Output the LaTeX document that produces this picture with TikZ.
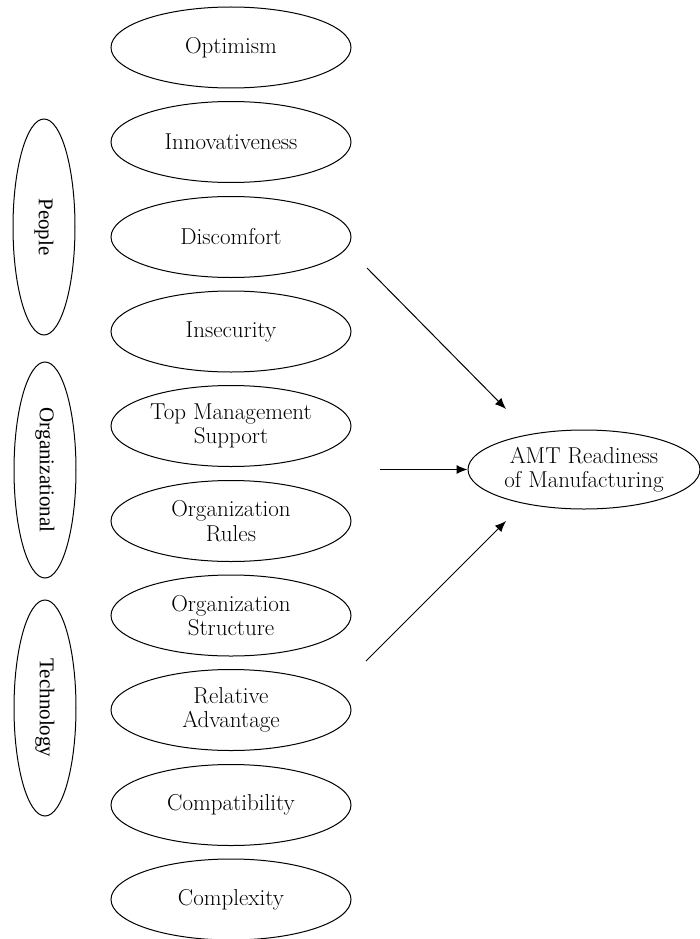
\documentclass[tikz,border=0pt]{standalone}
\usepackage{fontspec}
\newfontfamily\sidefont{Liberation Serif}
\usetikzlibrary{shapes.geometric}
\usetikzlibrary{arrows.meta}

\begin{document}
\begin{tikzpicture}[x=1pt, y=-1pt,
    factor/.style={draw, ellipse, line width=1pt, minimum width=240pt, minimum height=81pt,
        inner sep=0pt, align=center, font=\fontsize{23}{24.5}\selectfont},
    group/.style={draw, ellipse, line width=1pt, minimum width=216pt, minimum height=62pt,
        inner sep=0pt, rotate=-90, font=\sidefont\fontsize{21}{24}\selectfont},
    link/.style={line width=1pt, -{Latex[length=11pt,width=9pt]}}]

        % Fix the page to the size of the figure
        \useasboundingbox (0,0) rectangle (699,939);

        % Draw the three groups on the left
        \node[group] (people) at (44,227) {People};
        \node[group] (orga) at (45,470) {Organizational};
        \node[group] (tech) at (45,708) {Technology};

        % Draw the factors in the middle column
        \node[factor] (optim) at (231,47.5) {Optimism};
        \node[factor] (innov) at (231,142) {Innovativeness};
        \node[factor] (discom) at (231,237) {Discomfort};
        \node[factor] (insec) at (231,331.5) {Insecurity};
        \node[factor] (topman) at (231,426) {Top Management\\Support};
        \node[factor] (orgrul) at (231,521) {Organization\\Rules};
        \node[factor] (orgstr) at (231,615.5) {Organization\\Structure};
        \node[factor] (reladv) at (231,710) {Relative\\Advantage};
        \node[factor] (compat) at (231,805) {Compatibility};
        \node[factor] (complx) at (231,899.5) {Complexity};

        % Draw the outcome on the right
        \node[factor, minimum width=232pt, minimum height=79pt] (amt) at (584,469.5) {AMT Readiness\\of Manufacturing};

        % Free ends of the three arrows
        \coordinate (upfrom) at (367,268);
        \coordinate (upto) at (506,409);
        \coordinate (midfrom) at (380,469.5);
        \coordinate (lowfrom) at (366,661);
        \coordinate (lowto) at (506,521);

        % Draw the arrows towards the outcome
        \draw[link] (upfrom) -- (upto);
        \draw[link] (midfrom) -- (amt);
        \draw[link] (lowfrom) -- (lowto);
    \end{tikzpicture}
\end{document}
